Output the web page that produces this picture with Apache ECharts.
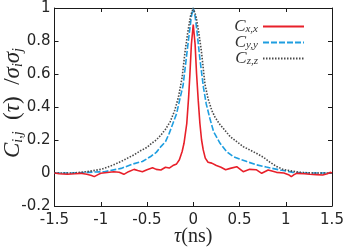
<!DOCTYPE html>
<html><head><meta charset="utf-8">
<script src="https://cdn.jsdelivr.net/npm/echarts@6/dist/echarts.min.js"></script>
<style>html,body{margin:0;padding:0;background:#fff}#c{width:346px;height:249px}</style>
</head><body><div id="c"></div>
<script>
const xTicks = [-1.5, -1, -0.5, 0, 0.5, 1, 1.5];
const yTicks = [-0.2, 0, 0.2, 0.4, 0.6, 0.8, 1];

const redTau = [-1.5,-1.45,-1.36,-1.28,-1.22,-1.15,-1.1,-1.07,-1.03,-1.0,-0.93,-0.86,-0.8,-0.75,-0.7,-0.64,-0.6,-0.55,-0.5,-0.44,-0.4,-0.35,-0.3,-0.26,-0.22,-0.18,-0.15,-0.12,-0.1,-0.07,-0.05,-0.036,-0.02,0,0.02,0.036,0.054,0.072,0.09,0.108,0.13,0.16,0.2,0.25,0.3,0.35,0.4,0.47,0.54,0.61,0.68,0.74,0.81,0.9,0.98,1.03,1.06,1.09,1.12,1.2,1.26,1.33,1.4,1.45,1.48,1.5];
const redVal = [0.0,-0.005,-0.008,-0.005,-0.002,-0.008,-0.015,-0.022,-0.01,-0.002,0.003,0.008,0.005,-0.008,0.008,0.022,0.015,0.008,0.02,0.032,0.022,0.018,0.035,0.03,0.045,0.055,0.08,0.13,0.18,0.30,0.46,0.6,0.78,0.9,0.78,0.6,0.44,0.30,0.2,0.14,0.09,0.065,0.06,0.045,0.035,0.02,0.028,0.038,0.008,0.022,0.02,-0.002,0.018,0.004,0.0,-0.01,-0.022,-0.01,-0.002,-0.005,-0.008,-0.01,-0.012,-0.005,0.004,0.0];

const blueTau = [-1.5,-1.3,-1.14,-0.96,-0.78,-0.65,-0.55,-0.46,-0.4,-0.35,-0.3,-0.26,-0.22,-0.18,-0.14,-0.11,-0.07,-0.04,-0.02,0,0.02,0.04,0.07,0.11,0.14,0.18,0.22,0.29,0.36,0.43,0.5,0.58,0.68,0.79,0.94,1.08,1.2,1.5];
const blueVal = [0.0,0.0,0.004,0.008,0.028,0.055,0.07,0.1,0.125,0.16,0.19,0.24,0.3,0.36,0.46,0.53,0.72,0.86,0.95,1.0,0.95,0.86,0.70,0.52,0.42,0.33,0.25,0.18,0.13,0.10,0.085,0.069,0.05,0.036,0.018,0.004,0.0,0.0];

const blackTau = [-1.5,-1.3,-1.15,-1.0,-0.93,-0.86,-0.78,-0.71,-0.64,-0.57,-0.5,-0.45,-0.4,-0.35,-0.3,-0.25,-0.2,-0.16,-0.12,-0.09,-0.06,-0.03,0,0.03,0.06,0.09,0.126,0.16,0.2,0.234,0.28,0.34,0.4,0.47,0.54,0.61,0.68,0.76,0.83,0.9,0.97,1.04,1.15,1.3,1.5];
const blackVal = [0,0.0,0.008,0.022,0.035,0.05,0.07,0.09,0.11,0.135,0.155,0.18,0.2,0.23,0.265,0.31,0.38,0.46,0.58,0.73,0.85,0.95,1.0,0.95,0.85,0.73,0.54,0.45,0.38,0.34,0.3,0.26,0.22,0.19,0.16,0.14,0.12,0.095,0.065,0.04,0.022,0.014,0.004,0.0,0.0];

const names = ['Cxx', 'Cyy', 'Czz'];
const subs = {Cxx: 'x,x', Cyy: 'y,y', Czz: 'z,z'};

const zip = (a, b) => a.map((v, i) => [v, b[i]]);

const chart = echarts.init(document.getElementById('c'), null, {renderer: 'canvas'});
const axisCommon = {
  type: 'value',
  axisLine: {show: true, onZero: false, lineStyle: {color: '#1a1a1a', width: 1}},
  axisTick: {show: true, inside: true, length: 4, lineStyle: {color: '#1a1a1a'}},
  splitLine: {show: false}
};
const serif = '"Liberation Serif", "DejaVu Serif", serif';
chart.setOption({
  animation: false,
  grid: {left: 54.5, right: 14, top: 8, bottom: 43, outerBoundsMode: 'none', containLabel: false},
  legend: {
    orient: 'vertical', right: 36, top: 10, align: 'right',
    itemWidth: 41, itemHeight: 10, itemGap: -4,
    data: names,
    itemStyle: {opacity: 0},
    formatter: n => '{c|C}{s|' + subs[n] + '}',
    textStyle: {
      color: '#333',
      rich: {
        c: {fontFamily: serif, fontStyle: 'italic', fontSize: 17, lineHeight: 17, verticalAlign: 'top', color: '#333'},
        s: {fontFamily: serif, fontStyle: 'italic', fontSize: 11, lineHeight: 11, verticalAlign: 'bottom', color: '#333', padding: [9, 0, 0, 0]}
      }
    }
  },
  xAxis: [
    Object.assign({}, axisCommon, {
      min: -1.5, max: 1.5, interval: 0.5,
      axisLabel: {color: '#262626', fontFamily: 'DejaVu Sans', fontSize: 15, margin: 7,
        formatter: v => String(xTicks.find(t => Math.abs(t - v) < 1e-9) ?? v)},
      name: '{t|τ}{n|(ns)}', nameLocation: 'middle', nameGap: 21, nameMoveOverlap: false,
      nameTextStyle: {rich: {
        t: {fontFamily: serif, fontStyle: 'italic', fontSize: 20, color: '#262626'},
        n: {fontFamily: serif, fontSize: 20, color: '#262626'}
      }}
    }),
    Object.assign({}, axisCommon, {position: 'top', min: -1.5, max: 1.5, interval: 0.5, axisLabel: {show: false}})
  ],
  yAxis: [
    Object.assign({}, axisCommon, {
      min: -0.2, max: 1, interval: 0.2,
      axisLabel: {color: '#262626', fontFamily: 'DejaVu Sans', fontSize: 15, margin: 4,
        formatter: v => String(yTicks.find(t => Math.abs(t - v) < 1e-9) ?? v)},
      name: '{c|C}{s|i,j}{p|  (}{c|τ}{p|)  /}{c|σ}{s|i}{c|σ}{s|j}',
      nameLocation: 'middle', nameRotate: 90, nameGap: 29, nameMoveOverlap: false,
      nameTextStyle: {padding: [0, 0, 0, 8], rich: {
        c: {fontFamily: serif, fontStyle: 'italic', fontSize: 23, lineHeight: 26, color: '#262626'},
        p: {fontFamily: serif, fontSize: 23, lineHeight: 26, color: '#262626'},
        s: {fontFamily: serif, fontStyle: 'italic', fontSize: 14, lineHeight: 26, verticalAlign: 'bottom', padding: [7, 0, 0, 0], color: '#262626'}
      }}
    }),
    Object.assign({}, axisCommon, {position: 'right', min: -0.2, max: 1, interval: 0.2, axisLabel: {show: false}})
  ],
  series: [
    {name: 'Cxx', type: 'line', data: zip(redTau, redVal), showSymbol: false, symbol: 'none', z: 4,
      lineStyle: {color: '#e8202a', width: 1.6}, itemStyle: {color: '#e8202a'}},
    {name: 'Cyy', type: 'line', data: zip(blueTau, blueVal), showSymbol: false, symbol: 'none', z: 2,
      lineStyle: {color: '#1e9ee0', width: 1.6, type: [6, 2]}, itemStyle: {color: '#1e9ee0'}},
    {name: 'Czz', type: 'line', data: zip(blackTau, blackVal), showSymbol: false, symbol: 'none', z: 3,
      lineStyle: {color: '#4a4a4a', width: 1.6, type: [1.5, 1.5]}, itemStyle: {color: '#4a4a4a'}}
  ]
});
</script></body></html>
